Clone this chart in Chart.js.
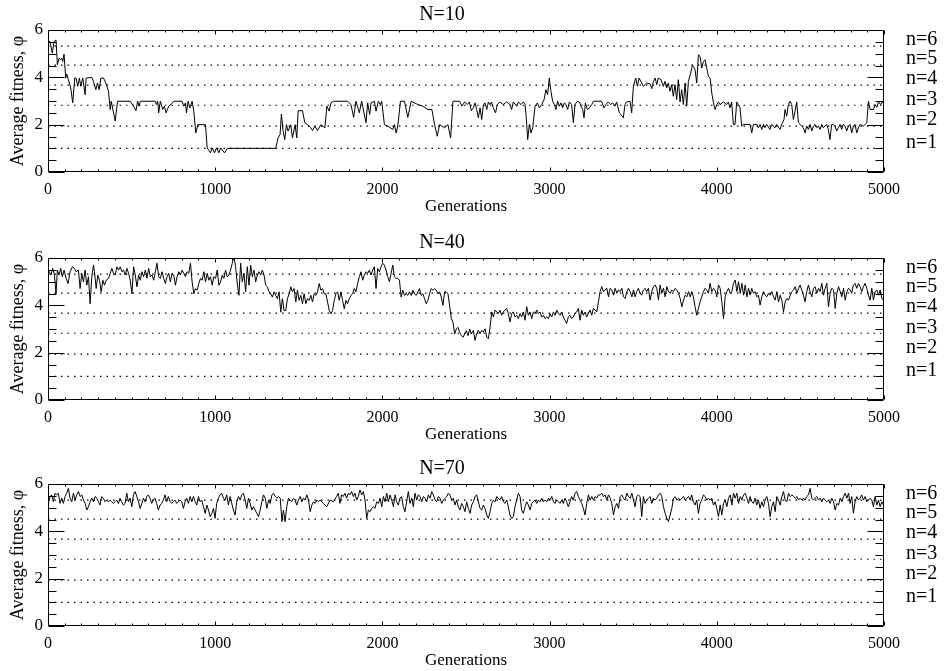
<!DOCTYPE html>
<html>
<head>
<meta charset="utf-8">
<script src="https://cdn.jsdelivr.net/npm/chart.js@4.4.1/dist/chart.umd.min.js"></script>
<style>
  body { margin: 0; background: #fff; }
  #wrap { position: relative; width: 946px; height: 671px; overflow: hidden; }
  .panel { position: absolute; left: 0; width: 946px; height: 217px; }
</style>
</head>
<body>
<div id="wrap">
  <div class="panel" style="top:0px"><canvas id="c10" width="946" height="217"></canvas></div>
  <div class="panel" style="top:228px"><canvas id="c40" width="946" height="217"></canvas></div>
  <div class="panel" style="top:454px"><canvas id="c70" width="946" height="217"></canvas></div>
</div>
<script>
// Axis ticks and reference levels
const xTicks = [0, 1000, 2000, 3000, 4000, 5000];
const yTicks = [0, 2, 4, 6];
const levels = [1.0, 1.94, 2.82, 3.67, 4.52, 5.32];
const levelNames = ['n=1', 'n=2', 'n=3', 'n=4', 'n=5', 'n=6'];

// N=10 run
const gen10 = [
  0,12,26,36,48,56,66,76,82,88,
  96,106,112,122,136,148,160,168,178,188,
  196,208,222,228,262,272,286,296,306,316,
  332,346,362,372,378,402,416,492,512,526,
  536,544,552,642,648,656,662,672,686,696,
  706,722,736,752,802,812,822,828,838,848,
  862,872,884,896,942,952,972,982,996,1008,
  1022,1032,1056,1072,1362,1376,1388,1396,1406,1416,
  1426,1436,1452,1462,1478,1488,1496,1522,1536,1552,
  1572,1582,1596,1612,1632,1656,1668,1682,1692,1708,
  1792,1812,1828,1842,1862,1876,1902,1912,1924,1932,
  1952,1962,1976,1988,1996,2012,2032,2062,2072,2082,
  2092,2108,2132,2152,2172,2212,2242,2272,2296,2312,
  2328,2342,2372,2392,2408,2422,2462,2476,2492,2508,
  2520,2532,2544,2554,2564,2574,2584,2594,2604,2614,
  2624,2634,2643,2653,2663,2677,2687,2703,2723,2743,
  2763,2773,2783,2803,2813,2829,2843,2853,2859,2869,
  2879,2889,2899,2913,2927,2939,2953,2967,2978,2988,
  2998,3008,3018,3028,3038,3048,3058,3068,3078,3088,
  3098,3108,3118,3132,3142,3152,3166,3178,3188,3198,
  3206,3214,3226,3238,3252,3262,3311,3325,3337,3351,
  3365,3377,3391,3401,3417,3427,3441,3451,3461,3481,
  3491,3501,3505,3515,3525,3535,3551,3561,3571,3581,
  3601,3611,3621,3631,3641,3650,3666,3680,3690,3700,
  3710,3720,3730,3740,3750,3760,3770,3780,3790,3800,
  3810,3820,3830,3844,3854,3860,3870,3880,3890,3900,
  3910,3920,3930,3940,3950,3960,3970,3980,3990,4000,
  4010,4019,4039,4059,4069,4079,4089,4099,4109,4119,
  4129,4139,4149,4159,4199,4209,4219,4239,4249,4259,
  4269,4279,4288,4298,4318,4328,4348,4358,4378,4388,
  4402,4408,4418,4428,4438,4448,4458,4468,4478,4488,
  4498,4508,4518,4528,4538,4548,4558,4568,4578,4588,
  4598,4608,4618,4628,4637,4647,4657,4667,4677,4687,
  4697,4707,4717,4727,4737,4747,4757,4767,4777,4787,
  4797,4807,4817,4827,4837,4847,4857,4877,4887,4897,
  4907,4917,4937,4947,4957,4967,4980,4990,5000
];
const fit10 = [
  5.51,5.51,5.02,5.51,5.58,4.53,4.81,4.74,4.81,4.67,
  4.98,3.97,4.14,3.90,3.55,2.92,3.97,3.97,3.62,3.97,
  3.62,3.97,3.27,3.97,4.0,3.83,3.48,3.76,3.48,3.97,
  3.97,3.76,3.41,2.64,2.99,2.15,2.99,2.99,2.78,2.59,
  2.99,2.78,2.99,2.99,2.85,2.99,2.50,2.99,2.64,2.78,
  2.50,2.78,2.85,2.99,2.99,2.78,2.92,2.50,2.99,2.71,
  2.99,2.57,1.65,2.0,2.0,1.02,0.81,1.02,0.81,1.02,
  0.81,1.02,0.81,1.0,1.0,1.44,1.58,2.45,1.73,1.37,
  2.0,1.73,2.0,1.44,2.0,1.44,2.59,2.59,2.08,2.0,
  1.87,1.75,1.94,1.75,2.0,1.87,2.78,2.57,2.92,2.99,
  2.99,2.85,2.31,2.99,2.50,2.99,2.08,2.92,2.43,2.92,
  2.99,2.57,2.99,2.85,2.99,2.0,1.94,1.80,2.0,1.65,
  1.94,2.99,2.99,2.31,2.99,2.85,2.78,2.64,2.64,2.0,
  1.51,2.0,1.87,2.0,1.44,2.99,2.99,2.78,2.96,2.85,
  2.96,2.59,2.71,2.92,2.64,2.29,2.71,2.22,2.85,2.92,
  2.64,2.96,2.85,2.96,2.71,2.50,2.85,2.96,2.85,2.96,
  2.85,2.64,2.96,2.78,2.96,2.85,2.96,2.85,2.43,1.37,
  2.01,1.65,1.87,2.78,2.92,2.71,2.85,3.06,3.48,3.27,
  3.97,3.41,2.99,2.85,2.64,2.99,2.78,2.92,2.71,2.92,
  2.85,2.64,2.96,2.85,2.08,2.85,2.99,2.96,2.78,2.64,
  2.29,2.92,2.64,2.71,2.85,2.99,2.99,2.71,2.85,2.96,
  2.85,2.92,2.78,2.96,2.50,2.43,2.29,2.85,2.96,2.99,
  2.50,3.62,3.72,3.97,3.62,3.97,3.76,3.62,3.69,3.76,
  3.72,3.52,3.83,3.97,3.69,3.97,3.90,3.62,3.83,3.55,
  3.76,3.41,3.69,3.20,3.69,3.06,3.90,2.96,3.48,2.85,
  3.76,2.78,3.83,4.18,4.53,4.46,4.32,3.76,4.95,4.88,
  4.39,4.67,4.74,4.39,4.04,3.97,3.34,2.92,2.64,2.85,
  2.96,2.85,2.96,2.85,2.96,2.71,2.96,2.01,2.01,2.96,
  2.85,2.71,1.94,2.01,2.01,1.65,2.01,2.01,1.87,2.01,
  1.80,2.01,1.87,2.01,1.80,2.01,1.87,2.01,1.80,2.01,
  2.22,2.64,2.36,2.85,2.99,2.85,2.22,2.57,2.96,2.08,
  2.01,1.94,1.87,1.65,1.94,1.80,2.01,1.73,1.94,2.01,
  1.87,1.94,1.80,2.01,1.87,1.94,2.01,1.80,1.37,2.01,
  2.01,1.94,1.73,1.87,2.01,1.80,2.01,1.94,1.73,1.94,
  2.01,1.65,1.94,2.01,1.65,1.87,2.01,1.94,2.01,2.08,
  2.99,2.64,2.64,2.85,2.73,2.96,2.85,2.96,2.88
];

// N=40 run
const gen40 = [
  0,8,18,28,38,48,56,66,76,86,
  96,108,120,132,146,158,168,182,192,202,
  212,222,232,242,252,262,272,278,288,298,
  308,318,328,338,348,362,372,382,392,402,
  412,422,432,442,452,462,472,482,492,502,
  512,522,532,542,552,562,572,582,592,602,
  612,622,632,642,652,662,672,682,692,702,
  712,722,732,742,752,762,772,782,792,802,
  812,822,832,842,852,862,872,882,892,902,
  912,922,932,942,952,962,972,982,992,1002,
  1012,1022,1032,1042,1052,1062,1072,1082,1092,1102,
  1112,1122,1132,1142,1152,1162,1172,1182,1192,1202,
  1212,1222,1232,1242,1252,1262,1272,1282,1292,1302,
  1312,1322,1332,1342,1352,1362,1372,1382,1392,1402,
  1412,1422,1432,1442,1452,1462,1472,1482,1492,1502,
  1512,1522,1532,1542,1552,1562,1572,1582,1592,1602,
  1612,1622,1632,1642,1652,1662,1672,1682,1692,1702,
  1712,1722,1732,1742,1752,1762,1772,1782,1792,1802,
  1812,1822,1832,1842,1852,1862,1872,1882,1892,1902,
  1912,1922,1932,1942,1952,1962,1972,1982,1992,2002,
  2012,2022,2032,2042,2052,2062,2072,2082,2092,2102,
  2112,2122,2132,2142,2152,2162,2172,2182,2192,2202,
  2212,2222,2232,2242,2252,2262,2272,2282,2292,2302,
  2312,2322,2332,2342,2352,2362,2372,2382,2392,2402,
  2412,2422,2432,2442,2452,2462,2472,2482,2492,2502,
  2512,2522,2532,2544,2554,2564,2574,2584,2594,2604,
  2614,2624,2634,2644,2654,2664,2674,2684,2694,2703,
  2713,2723,2733,2743,2753,2763,2773,2783,2793,2803,
  2813,2823,2833,2843,2853,2863,2873,2883,2893,2903,
  2913,2923,2933,2943,2953,2963,2973,2983,2993,3003,
  3013,3023,3033,3043,3053,3062,3072,3082,3092,3102,
  3112,3122,3132,3142,3152,3162,3172,3182,3192,3202,
  3212,3222,3232,3242,3252,3262,3272,3282,3292,3302,
  3312,3322,3332,3342,3352,3362,3372,3382,3392,3402,
  3412,3422,3432,3442,3452,3462,3472,3482,3492,3502,
  3511,3521,3531,3541,3551,3561,3571,3581,3591,3601,
  3611,3621,3631,3641,3651,3661,3671,3681,3691,3701,
  3711,3721,3731,3741,3751,3761,3771,3781,3791,3801,
  3811,3821,3831,3841,3850,3860,3870,3880,3890,3900,
  3910,3920,3930,3940,3950,3960,3970,3980,3990,4000,
  4010,4020,4030,4040,4050,4060,4070,4080,4090,4100,
  4110,4120,4130,4140,4150,4160,4170,4180,4190,4199,
  4209,4219,4229,4239,4249,4259,4269,4279,4289,4299,
  4309,4319,4329,4339,4349,4359,4369,4379,4389,4399,
  4409,4419,4429,4439,4449,4459,4469,4479,4489,4498,
  4508,4518,4528,4538,4548,4558,4568,4578,4588,4598,
  4608,4618,4628,4638,4648,4658,4668,4678,4688,4698,
  4708,4718,4728,4738,4748,4758,4768,4778,4788,4797,
  4807,4817,4827,4837,4847,4857,4867,4877,4887,4897,
  4907,4917,4927,4937,4947,4957,4967,4977,4987,4997
];
const fit40 = [
  5.49,5.42,5.28,5.56,5.31,4.49,5.49,5.28,5.56,5.21,
  5.49,5.14,4.92,5.42,5.63,5.56,5.42,5.49,4.71,5.35,
  4.99,5.49,4.85,5.21,4.07,5.21,5.70,5.42,4.71,5.28,
  5.06,4.57,5.06,4.85,5.06,5.14,5.35,5.56,5.35,5.28,
  5.63,5.49,5.63,5.42,5.49,5.28,5.56,5.35,5.06,4.49,
  5.63,5.28,4.78,5.28,5.06,5.42,5.21,5.49,5.14,5.56,
  5.21,5.28,5.06,5.42,5.78,5.21,5.14,5.42,5.14,4.92,
  5.21,5.35,4.99,5.35,5.28,4.85,5.21,5.42,5.28,5.49,
  5.35,5.21,5.42,5.35,5.78,4.99,4.49,4.71,4.64,4.92,
  5.14,5.06,5.42,4.99,5.35,5.06,5.21,4.85,5.21,5.14,
  5.49,4.85,4.99,5.28,5.14,5.49,5.21,5.28,5.49,5.78,
  6.06,5.63,4.92,4.42,5.78,4.99,5.35,4.57,5.63,4.85,
  5.70,5.21,5.49,4.99,5.28,5.42,5.28,5.49,5.28,4.85,
  4.78,4.57,4.49,4.35,4.57,4.42,4.28,4.57,3.71,4.28,
  3.78,3.78,4.28,4.49,4.78,4.57,4.71,4.14,4.64,4.21,
  4.42,4.07,4.49,4.07,4.28,4.21,4.42,4.14,4.49,4.42,
  4.57,4.92,4.64,4.71,4.49,4.49,4.14,3.78,3.64,3.78,
  4.21,4.49,4.57,4.21,4.57,4.21,3.85,4.21,4.07,4.28,
  4.42,4.49,4.71,4.57,4.92,5.21,5.42,5.06,5.28,5.42,
  5.35,5.49,5.28,5.49,5.63,4.71,5.56,5.42,5.63,5.78,
  5.70,5.49,5.21,4.99,5.35,5.70,5.21,5.14,5.14,5.06,
  4.35,4.64,4.42,4.49,4.42,4.57,4.42,4.64,4.49,4.42,
  4.57,4.71,4.42,4.49,4.28,4.07,4.21,4.49,4.71,4.64,
  4.71,4.64,4.49,4.57,4.35,4.0,4.57,4.57,4.49,4.0,
  3.43,3.29,2.79,3.0,3.07,2.86,2.72,2.65,2.79,2.93,
  2.72,3.0,2.79,2.94,2.52,2.80,2.94,2.80,2.94,2.87,
  3.01,2.66,2.59,3.08,3.72,3.51,3.80,3.72,3.65,3.80,
  3.58,3.72,3.80,3.87,3.65,3.30,3.65,3.72,3.51,3.58,
  3.44,3.65,3.51,3.72,3.37,3.94,3.58,3.72,3.44,3.72,
  3.65,3.80,3.65,3.72,3.51,3.58,3.44,3.51,3.44,3.65,
  3.51,3.72,3.58,3.80,3.65,3.58,3.72,3.51,3.37,3.23,
  3.51,3.58,3.44,3.51,3.65,3.72,3.87,3.37,3.80,3.58,
  3.72,3.51,3.65,3.80,3.58,3.87,3.80,3.72,4.15,4.58,
  4.79,4.58,4.65,4.72,4.36,4.72,4.65,4.43,4.72,4.51,
  4.65,4.58,4.72,4.36,4.29,4.58,4.72,4.58,4.36,4.65,
  4.36,4.58,4.72,4.51,4.43,4.65,4.72,4.58,4.72,4.22,
  4.58,4.79,4.86,4.72,4.22,4.86,4.51,4.72,4.36,4.79,
  4.58,4.51,4.65,4.58,4.72,4.65,4.51,4.29,3.94,4.22,
  4.43,4.36,4.58,4.36,4.58,4.36,3.94,3.58,3.87,4.15,
  4.36,4.58,4.72,4.65,4.51,4.93,4.58,4.72,4.65,4.36,
  4.86,4.72,4.15,3.44,4.36,4.58,4.72,4.51,4.58,4.93,
  5.07,4.58,5.00,4.51,4.93,4.43,4.86,4.36,4.72,4.43,
  4.72,4.51,4.58,4.36,4.43,4.01,4.36,4.58,4.43,4.36,
  4.51,4.43,4.58,4.36,4.22,4.58,4.15,4.43,4.22,3.72,
  4.15,4.29,4.22,4.43,4.58,4.65,4.79,4.51,4.72,4.86,
  4.65,4.43,4.15,4.58,4.86,4.58,4.36,4.72,4.79,4.51,
  4.72,4.58,4.93,4.43,4.72,4.93,3.94,4.51,4.72,4.65,
  3.87,4.51,4.79,4.58,4.36,4.72,4.22,4.58,4.72,4.65,
  4.51,4.86,4.93,4.72,4.93,4.79,4.58,4.79,4.93,4.72,
  4.43,4.22,4.72,4.22,4.58,4.65,4.43,4.65,4.29,4.22
];

// N=70 run
const gen70 = [
  2,12,22,32,42,52,62,72,82,92,
  102,112,122,132,142,152,162,172,182,192,
  202,212,222,232,242,252,262,272,282,292,
  302,311,321,331,341,351,361,371,381,391,
  401,411,421,431,441,451,461,471,481,491,
  501,511,521,531,541,551,561,571,581,591,
  600,610,620,630,640,650,660,670,680,690,
  700,710,720,730,740,750,760,770,780,790,
  800,810,820,830,840,850,860,870,880,890,
  900,910,920,930,940,950,960,970,980,990,
  999,1009,1019,1029,1039,1049,1059,1069,1079,1089,
  1099,1109,1119,1129,1139,1149,1159,1169,1179,1189,
  1199,1209,1219,1229,1239,1249,1259,1269,1279,1289,
  1299,1309,1319,1329,1339,1349,1359,1369,1379,1389,
  1399,1408,1418,1428,1438,1448,1458,1468,1478,1488,
  1498,1508,1518,1528,1538,1548,1558,1568,1578,1588,
  1598,1608,1618,1627,1647,1667,1687,1706,1726,1736,
  1746,1756,1766,1776,1786,1796,1806,1816,1826,1836,
  1846,1856,1866,1876,1886,1896,1906,1916,1926,1936,
  1946,1956,1966,1976,1986,1996,2006,2016,2026,2036,
  2046,2056,2066,2076,2085,2095,2105,2115,2125,2135,
  2145,2155,2165,2175,2185,2195,2205,2215,2225,2235,
  2245,2255,2265,2275,2285,2295,2305,2315,2325,2335,
  2345,2355,2365,2375,2385,2394,2404,2414,2424,2434,
  2444,2454,2464,2474,2484,2494,2504,2514,2524,2534,
  2544,2554,2564,2574,2584,2594,2604,2614,2624,2634,
  2644,2654,2664,2674,2684,2693,2703,2713,2723,2733,
  2743,2753,2763,2773,2783,2793,2803,2813,2823,2833,
  2843,2853,2863,2873,2883,2893,2903,2913,2923,2933,
  2943,2953,2963,2973,2983,2993,3003,3013,3023,3033,
  3043,3053,3062,3072,3082,3092,3102,3112,3122,3132,
  3142,3152,3162,3172,3182,3192,3202,3212,3222,3232,
  3242,3252,3262,3272,3282,3292,3302,3312,3322,3332,
  3342,3352,3362,3372,3382,3392,3402,3412,3422,3432,
  3442,3452,3462,3472,3482,3492,3502,3511,3521,3531,
  3541,3551,3561,3571,3581,3591,3601,3611,3621,3631,
  3641,3651,3661,3671,3681,3691,3701,3711,3721,3731,
  3741,3751,3761,3771,3781,3791,3801,3811,3821,3831,
  3841,3850,3860,3870,3880,3890,3900,3910,3920,3930,
  3940,3950,3960,3970,3980,3990,4000,4010,4020,4030,
  4040,4050,4060,4070,4080,4090,4100,4110,4120,4130,
  4140,4150,4160,4170,4180,4190,4199,4209,4219,4229,
  4239,4249,4259,4269,4279,4289,4299,4309,4319,4329,
  4339,4349,4359,4369,4379,4389,4399,4409,4419,4429,
  4439,4449,4459,4469,4479,4489,4498,4508,4518,4528,
  4538,4548,4558,4568,4578,4588,4598,4608,4618,4628,
  4638,4648,4658,4668,4678,4688,4698,4708,4718,4728,
  4738,4748,4758,4768,4778,4788,4797,4807,4817,4827,
  4837,4847,4857,4867,4877,4887,4897,4907,4917,4927,
  4937,4947,4957,4967,4977,4987,4997
];
const fit70 = [
  5.18,5.47,5.54,5.25,5.61,5.54,5.61,5.18,5.40,5.18,
  5.47,5.61,5.82,5.40,5.25,5.61,5.32,5.54,5.68,5.47,
  5.54,5.32,5.18,4.90,5.04,5.25,5.40,5.25,5.47,5.40,
  5.25,5.11,5.47,5.40,5.25,5.32,5.25,5.32,5.25,5.18,
  5.25,5.32,5.18,5.40,5.25,5.11,5.18,5.61,5.25,5.40,
  5.04,5.54,5.68,5.47,5.25,4.97,5.18,5.40,5.25,5.47,
  5.54,5.40,5.18,5.32,5.40,5.18,4.90,5.11,5.18,5.32,
  5.54,5.25,5.47,5.25,5.18,5.25,5.32,5.18,5.25,5.32,
  5.25,4.97,5.25,5.40,5.18,5.47,5.25,5.47,5.25,5.11,
  5.47,5.25,5.32,5.04,4.76,5.11,4.90,4.62,4.76,4.97,
  4.55,5.18,5.40,5.54,5.61,5.40,5.32,5.54,5.11,5.47,
  5.18,4.90,4.69,5.25,5.47,5.32,5.54,5.61,5.32,4.97,
  5.40,5.18,4.90,5.04,4.90,4.76,4.62,4.90,5.25,5.54,
  5.40,4.97,5.32,5.18,5.54,5.61,5.47,5.40,5.47,5.40,
  4.41,4.90,4.41,5.04,5.40,5.32,5.25,5.40,5.32,5.11,
  5.32,5.47,5.25,5.40,5.32,5.54,5.32,4.83,5.11,5.25,
  5.18,5.32,5.25,5.32,5.18,5.04,5.32,5.25,5.47,5.61,
  5.18,5.54,5.47,5.61,5.40,5.61,5.54,5.68,5.47,5.61,
  5.32,5.47,5.75,5.54,5.68,5.32,4.55,4.90,4.83,4.97,
  5.04,4.97,5.25,5.18,5.40,5.04,5.47,5.25,5.61,5.25,
  5.54,5.32,5.04,5.54,5.25,5.11,5.40,5.47,5.04,4.83,
  5.25,5.68,5.18,5.40,5.04,5.61,5.32,5.54,5.47,5.25,
  5.47,5.40,5.25,5.54,5.40,5.68,5.54,5.32,5.25,5.47,
  5.40,5.18,5.32,5.40,5.47,5.61,5.54,5.32,5.40,5.11,
  5.32,5.04,4.90,5.18,5.04,4.83,5.25,4.97,4.76,5.11,
  5.25,5.47,5.54,5.25,4.97,4.90,5.11,4.97,4.69,4.55,
  4.83,5.18,5.32,5.25,5.47,5.40,5.32,5.47,5.25,5.18,
  5.32,5.04,4.69,4.55,4.62,5.04,5.32,5.61,5.47,4.90,
  4.76,5.04,5.25,5.11,4.90,5.18,5.25,5.32,5.18,5.32,
  5.25,5.40,5.25,5.32,5.25,5.40,5.32,5.47,5.25,5.18,
  5.32,5.25,5.18,5.32,5.18,5.40,5.25,5.04,5.25,5.47,
  5.32,5.61,5.68,5.47,5.32,5.18,4.97,4.69,5.18,5.54,
  5.32,5.47,5.32,5.47,5.40,5.54,5.54,5.61,5.47,5.54,
  5.32,5.54,5.40,5.18,4.69,5.04,5.18,4.97,5.47,5.54,
  5.40,5.32,5.61,5.47,5.40,5.61,5.32,5.04,5.47,5.54,
  5.47,4.62,5.47,5.18,5.32,5.40,5.47,5.18,5.40,5.32,
  5.40,5.54,5.61,5.47,5.04,4.76,4.55,4.41,4.69,4.97,
  5.40,5.47,5.32,5.40,5.32,5.40,5.47,5.32,5.40,5.47,
  5.32,5.54,5.25,5.11,5.32,4.76,5.18,5.32,5.54,5.47,
  5.32,5.40,5.32,5.40,5.11,5.25,4.97,4.62,5.11,4.69,
  5.18,5.32,5.04,5.40,5.54,5.11,5.61,5.40,5.61,5.18,
  5.47,5.32,5.54,5.61,5.40,5.18,5.47,5.25,5.18,5.40,
  5.11,5.32,4.97,5.25,5.04,5.32,5.47,5.18,4.62,5.04,
  5.25,4.83,5.47,5.32,5.11,5.47,5.68,5.32,5.25,5.61,
  5.47,5.54,5.47,5.40,5.47,5.32,5.40,5.32,5.40,5.32,
  5.47,5.54,5.82,5.40,5.32,5.40,5.47,5.32,5.40,5.25,
  5.40,5.32,5.25,5.32,5.18,5.40,5.25,4.90,5.18,5.11,
  5.40,5.25,5.47,5.61,5.40,5.61,5.18,5.47,4.76,5.25,
  5.47,5.32,5.40,5.54,5.32,5.47,5.25,5.32,5.40,5.32,
  5.04,5.47,5.11,5.32,5.04,5.25,5.11
];

const SERIF = "'Liberation Serif', 'Times New Roman', serif";

// Box round the plot, inward ticks on all four sides, n= labels on the right
const framePlugin = {
  id: 'frame',
  afterDatasetsDraw(chart) {
    const { ctx, chartArea: a, scales: { x, y } } = chart;
    const L = Math.round(a.left) + 0.5, R = Math.round(a.right) - 0.5;
    const T = Math.round(a.top) + 0.5, B = Math.round(a.bottom) - 0.5;
    ctx.save();
    ctx.strokeStyle = '#000';
    ctx.lineWidth = 1;
    ctx.beginPath();
    ctx.rect(L, T, R - L, B - T);
    // x ticks: minor every 100, major every 1000
    for (let g = 0; g <= 5000; g += 100) {
      const px = Math.round(x.getPixelForValue(g)) + 0.5;
      const len = g % 1000 === 0 ? 4 : 2;
      ctx.moveTo(px, B); ctx.lineTo(px, B - len);
      ctx.moveTo(px, T); ctx.lineTo(px, T + len);
    }
    // y ticks: minor every 0.5, major every 2
    for (let k = 0; k <= 12; k++) {
      const v = k * 0.5;
      const py = Math.round(y.getPixelForValue(v)) + 0.5;
      const len = v % 2 === 0 ? 16 : 8;
      ctx.moveTo(L, py); ctx.lineTo(L + len, py);
      ctx.moveTo(R, py); ctx.lineTo(R - len, py);
    }
    ctx.stroke();

    ctx.fillStyle = '#000';
    ctx.font = '20px ' + SERIF;
    ctx.textAlign = 'left';
    ctx.textBaseline = 'middle';
    levels.forEach((v, i) => {
      ctx.fillText(levelNames[i], a.right + 22, y.getPixelForValue(v) - 6);
    });
    ctx.restore();
  }
};

function makePanel(id, title, gens, fits) {
  const series = gens.map((g, i) => ({ x: g, y: fits[i] }));
  const levelSets = levels.map(v => ({
    data: [{ x: 0, y: v }, { x: 5000, y: v }],
    borderColor: '#000',
    borderWidth: 1.2,
    borderDash: [1.5, 5],
    pointRadius: 0
  }));

  new Chart(document.getElementById(id), {
    type: 'line',
    data: {
      datasets: [{
        data: series,
        borderColor: '#000',
        borderWidth: 1,
        pointRadius: 0,
        tension: 0
      }, ...levelSets]
    },
    options: {
      responsive: false,
      animation: false,
      devicePixelRatio: 1,
      events: [],
      layout: { padding: { left: 0, right: 62, top: 0, bottom: 0 } },
      plugins: {
        legend: { display: false },
        tooltip: { enabled: false },
        title: {
          display: true,
          text: title,
          color: '#000',
          font: { family: SERIF, size: 20, weight: 'normal' },
          padding: { top: 3, bottom: 3 }
        }
      },
      scales: {
        x: {
          type: 'linear',
          min: 0,
          max: 5000,
          afterBuildTicks: s => { s.ticks = xTicks.map(v => ({ value: v })); },
          afterFit: s => { s.height = 45; },
          grid: { display: false, drawTicks: false },
          border: { display: false },
          ticks: {
            color: '#000', padding: 8, maxRotation: 0,
            font: { family: SERIF, size: 16 },
            callback: v => String(v)
          },
          title: {
            display: true,
            text: 'Generations',
            color: '#000',
            font: { family: SERIF, size: 17 },
            padding: { top: 0, bottom: 0 }
          }
        },
        y: {
          min: 0,
          max: 6,
          afterBuildTicks: s => { s.ticks = yTicks.map(v => ({ value: v })); },
          afterFit: s => { s.width = 48; },
          grid: { display: false, drawTicks: false },
          border: { display: false },
          ticks: {
            color: '#000', padding: 5,
            font: { family: SERIF, size: 17 },
            callback: v => String(v)
          },
          title: {
            display: true,
            text: 'Average fitness, \u03c6',
            color: '#000',
            font: { family: SERIF, size: 18 },
            padding: { top: 7, bottom: 0 }
          }
        }
      }
    },
    plugins: [framePlugin]
  });
}

makePanel('c10', 'N=10', gen10, fit10);
makePanel('c40', 'N=40', gen40, fit40);
makePanel('c70', 'N=70', gen70, fit70);
</script>
</body>
</html>
